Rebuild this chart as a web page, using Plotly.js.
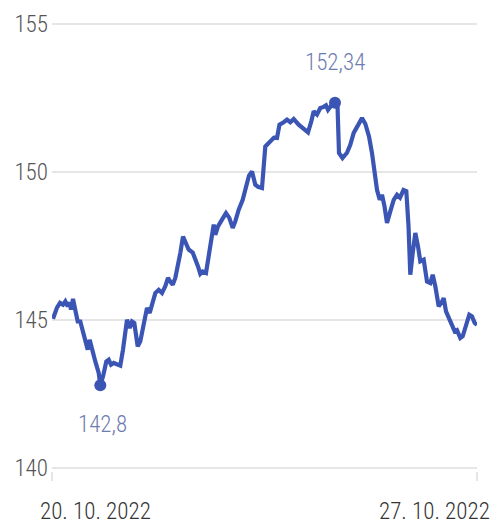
<!DOCTYPE html>
<html>
<head>
<meta charset="utf-8">
<script src="https://cdn.plot.ly/plotly-3.0.1.min.js"></script>
<style>
html,body{margin:0;padding:0;background:#fff;}
#chart{width:490px;height:527px;}
</style>
</head>
<body>
<div id="chart"></div>
<script>
// Position along the time axis (20.10.2022 -> 27.10.2022)
const position = [0,4,7,10,12.3,14.7,16.7,18,20,22.3,24.7,27.3,30,33.3,34.7,36.7,39,42.3,45.7,47.3,
  50,53.3,55.7,58,60.7,64,67.3,70,74,76.7,79,81.3,84.7,87.3,90,92.3,94,96.7,99,102.3,
  105.7,109,112.3,115,117.3,119.7,122.3,125,127.3,130,132.3,135.7,139.7,142.3,145,147.3,149.7,153,155.7,158.3,
  160.7,162.3,165,169,173,176.3,179.7,182.3,185.7,189.7,193,196,199,202.3,205,209,212.3,215,218,221,
  224,226.5,230.7,234,237.3,240.7,245.7,249,252.3,255,258.3,260.7,264,267.3,270.7,273,275,279,282,284.5,
  286,289.5,294,297.3,300.7,305,309,312.3,316,319,321.5,324,326.7,329,331.5,334,337.3,340.7,344,347,
  350.5,353.3,355.5,357.3,359.7,362.3,365,367.3,370.7,374,377.3,379.7,382.3,385.7,389,390.7,393,397.3,401.7,404,
  407.3,409.7,413,416.3,419,421.7,424];
const price = [145.04,145.42,145.58,145.52,145.63,145.46,145.59,145.35,145.71,145.29,144.95,144.95,144.62,144.28,144.0,144.33,144.0,143.6,143.21,142.8,
  143.09,143.6,143.66,143.49,143.55,143.49,143.46,144.0,145.01,144.73,144.95,144.9,144.11,144.28,144.78,145.24,145.41,145.24,145.57,145.91,
  146.02,145.91,146.14,146.42,146.3,146.19,146.42,146.81,147.26,147.82,147.66,147.38,147.28,147.09,146.81,146.56,146.64,146.59,147.15,147.71,
  148.22,147.88,148.16,148.39,148.61,148.45,148.11,148.33,148.73,149.06,149.57,149.88,150.02,149.57,149.5,149.46,150.86,150.96,151.09,151.16,
  151.15,151.6,151.68,151.77,151.68,151.79,151.6,151.52,151.43,151.34,151.71,152.05,151.94,152.16,152.2,152.25,152.1,152.28,152.34,152.25,
  150.64,150.47,150.65,150.92,151.32,151.58,151.82,151.63,151.2,150.64,149.91,149.4,149.06,149.23,148.84,148.28,148.67,149.06,149.23,149.13,
  149.39,149.35,148.19,146.53,147.26,147.94,147.49,146.98,147.04,146.3,146.25,146.53,146.14,145.46,145.62,145.74,145.29,144.95,144.62,144.66,
  144.39,144.45,144.84,145.18,145.12,144.9,144.84];
const yTicks = [140, 145, 150, 155];
const dateLabels = ["20. 10. 2022", "27. 10. 2022"];
const minLabel = "142,8";
const maxLabel = "152,34";

const FONT = "'Liberation Sans Narrow', 'Roboto Condensed', Roboto, sans-serif";
const LINE = "#3b55b5";
const GRID = "#e6e6e6";

let iMin = 0, iMax = 0;
price.forEach((v, i) => { if (v < price[iMin]) iMin = i; if (v > price[iMax]) iMax = i; });

const data = [
  {x: position, y: price, type: 'scatter', mode: 'lines',
   line: {color: LINE, width: 4.2, shape: 'linear'}, hoverinfo: 'none', cliponaxis: false},
  {x: [position[iMin], position[iMax]], y: [price[iMin], price[iMax]], type: 'scatter', mode: 'markers',
   marker: {color: LINE, size: 12}, hoverinfo: 'none', cliponaxis: false}
];

const layout = {
  width: 490, height: 527,
  margin: {l: 52, r: 13, t: 21, b: 56},
  paper_bgcolor: '#fff', plot_bgcolor: '#fff',
  showlegend: false,
  font: {family: FONT, size: 23, color: '#555', weight: 300},
  xaxis: {range: [-1, 424], showgrid: false, zeroline: false, showline: false,
    tickmode: 'array', tickvals: [-1, 424], ticks: 'outside', ticklen: 9, tickwidth: 2,
    tickcolor: GRID, showticklabels: false, fixedrange: true},
  yaxis: {range: [139.9, 155.1], tickmode: 'array', tickvals: yTicks, ticktext: yTicks.map(String),
    showgrid: true, gridcolor: GRID, gridwidth: 2, zeroline: false, showline: false,
    ticks: '', ticklabelstandoff: 3, tickfont: {family: FONT, size: 23, color: '#555', weight: 300}, fixedrange: true},
  annotations: [
    {x: position[iMax], y: price[iMax], xref: 'x', yref: 'y', text: maxLabel, showarrow: false,
     yshift: 40, font: {family: FONT, size: 23, color: '#6f7cb0', weight: 300}},
    {x: position[iMin], y: price[iMin], xref: 'x', yref: 'y', text: minLabel, showarrow: false,
     yshift: -39, xshift: 2, font: {family: FONT, size: 23, color: '#6f7cb0', weight: 300}},
    {x: -0.033, y: 0, xref: 'paper', yref: 'paper', xanchor: 'left', yanchor: 'top', yshift: -25,
     text: dateLabels[0], showarrow: false, font: {family: FONT, size: 23, color: '#333', weight: 300}},
    {x: 1.035, y: 0, xref: 'paper', yref: 'paper', xanchor: 'right', yanchor: 'top', yshift: -25,
     text: dateLabels[1], showarrow: false, font: {family: FONT, size: 23, color: '#333', weight: 300}}
  ]
};

Plotly.newPlot('chart', data, layout, {displayModeBar: false, staticPlot: true});
</script>
</body>
</html>
